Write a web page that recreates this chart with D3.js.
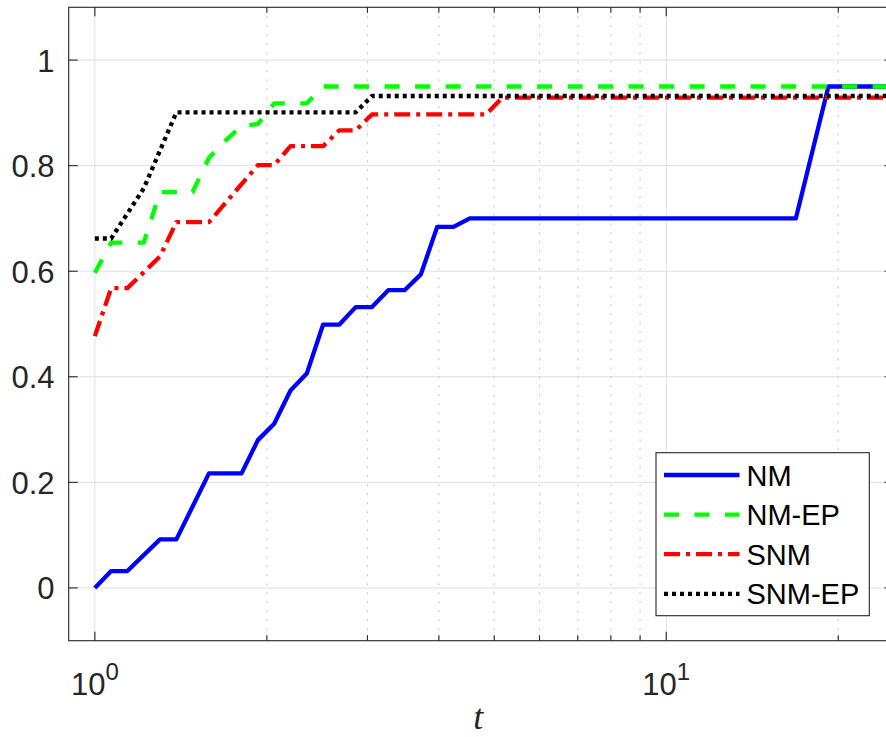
<!DOCTYPE html>
<html>
<head>
<meta charset="utf-8">
<script src="https://cdn.jsdelivr.net/npm/d3@7"></script>
<style>
  body { margin: 0; background: #fff; }
  svg { display: block; }
</style>
</head>
<body>
<svg id="chart"></svg>
<script>
// performance profile data
const seriesNames = ["NM", "NM-EP", "SNM", "SNM-EP"];

const tNM = [1, 1.068, 1.140, 1.300, 1.389, 1.584, 1.806, 1.929, 2.060, 2.200, 2.349, 2.509, 2.679, 2.861, 3.055, 3.262, 3.484, 3.720, 3.973, 4.243, 4.531, 16.856, 19.222, 25];
const vNM = [0, 0.032, 0.032, 0.092, 0.092, 0.217, 0.217, 0.280, 0.311, 0.374, 0.406, 0.499, 0.499, 0.532, 0.532, 0.564, 0.564, 0.594, 0.684, 0.684, 0.700, 0.700, 0.950, 0.950];

const tNMEP = [1, 1.068, 1.218, 1.300, 1.483, 1.584, 1.691, 1.806, 1.929, 2.060, 2.349, 2.509, 25];
const vNMEP = [0.597, 0.654, 0.654, 0.750, 0.750, 0.815, 0.847, 0.875, 0.879, 0.918, 0.918, 0.950, 0.950];

const tSNM = [1, 1.068, 1.140, 1.218, 1.300, 1.389, 1.584, 1.929, 2.060, 2.200, 2.509, 2.679, 2.861, 3.055, 4.839, 5.167, 25];
const vSNM = [0.477, 0.568, 0.568, 0.598, 0.628, 0.693, 0.693, 0.801, 0.801, 0.837, 0.837, 0.867, 0.867, 0.897, 0.897, 0.929, 0.929];

const tSNMEP = [1, 1.068, 1.218, 1.389, 2.861, 3.055, 25];
const vSNMEP = [0.662, 0.662, 0.757, 0.901, 0.901, 0.932, 0.932];

const xMajor = [1, 10];
const xMajorExp = ["0", "1"];
const xMinor = [2, 3, 4, 5, 6, 7, 8, 9, 20];
const yTicks = [0, 0.2, 0.4, 0.6, 0.8, 1];
const yTickLabels = ["0", "0.2", "0.4", "0.6", "0.8", "1"];

const W = 886, H = 737;
const pLeft = 68.7, pTop = 7.3, pBottom = 640.7;
const svg = d3.select("#chart").attr("width", W).attr("height", H);

const x = d3.scaleLog().domain([0.9, 25]).range([pLeft, pLeft + 571.4 * Math.log10(25 / 0.9)]);
const y = d3.scaleLinear().domain([-0.1, 1.1]).range([pBottom, pTop]);
const pRight = x.range()[1];

const axisColor = "#262626";

// grid
const grid = svg.append("g");
grid.selectAll(".yg").data(yTicks).join("line")
    .attr("x1", pLeft).attr("x2", pRight)
    .attr("y1", d => y(d)).attr("y2", d => y(d))
    .attr("stroke", "#e0e0e0").attr("stroke-width", 1);
grid.selectAll(".xg").data(xMajor).join("line")
    .attr("x1", d => x(d)).attr("x2", d => x(d))
    .attr("y1", pTop).attr("y2", pBottom)
    .attr("stroke", "#e0e0e0").attr("stroke-width", 1);
grid.selectAll(".xm").data(xMinor).join("line")
    .attr("x1", d => x(d)).attr("x2", d => x(d))
    .attr("y1", pTop).attr("y2", pBottom)
    .attr("stroke", "#c4c4c4").attr("stroke-width", 1)
    .attr("stroke-dasharray", "2,7");

// curves
svg.append("defs").append("clipPath").attr("id", "clip")
    .append("rect").attr("x", pLeft).attr("y", pTop)
    .attr("width", pRight - pLeft).attr("height", pBottom - pTop);

const series = [
    { name: seriesNames[0], t: tNM, v: vNM, color: "#0000ff", dash: null },
    { name: seriesNames[1], t: tNMEP, v: vNMEP, color: "#00ff00", dash: "15,15.5" },
    { name: seriesNames[2], t: tSNM, v: vSNM, color: "#ff0000", dash: "16,6,4,6" },
    { name: seriesNames[3], t: tSNMEP, v: vSNMEP, color: "#000000", dash: "4,4" }
];

const line = d3.line().x(d => x(d[0])).y(d => y(d[1]));

svg.append("g").attr("clip-path", "url(#clip)")
    .selectAll("path").data(series).join("path")
    .attr("d", s => line(s.t.map((t, i) => [t, s.v[i]])))
    .attr("fill", "none")
    .attr("stroke", s => s.color)
    .attr("stroke-width", 4.3)
    .attr("stroke-linejoin", "round")
    .attr("stroke-dasharray", s => s.dash);

// axes box and ticks
const axes = svg.append("g").attr("stroke", axisColor).attr("stroke-width", 1.1);
axes.append("rect").attr("x", pLeft).attr("y", pTop)
    .attr("width", pRight - pLeft).attr("height", pBottom - pTop).attr("fill", "none");

const xt = xMajor.map(d => ({ v: d, len: 9 })).concat(xMinor.map(d => ({ v: d, len: 5.5 })));
axes.selectAll(".xb").data(xt).join("line")
    .attr("x1", d => x(d.v)).attr("x2", d => x(d.v))
    .attr("y1", pBottom).attr("y2", d => pBottom - d.len);
axes.selectAll(".xt").data(xt).join("line")
    .attr("x1", d => x(d.v)).attr("x2", d => x(d.v))
    .attr("y1", pTop).attr("y2", d => pTop + d.len);
axes.selectAll(".yl").data(yTicks).join("line")
    .attr("x1", pLeft).attr("x2", pLeft + 9)
    .attr("y1", d => y(d)).attr("y2", d => y(d));
axes.selectAll(".yr").data(yTicks).join("line")
    .attr("x1", pRight).attr("x2", pRight - 9)
    .attr("y1", d => y(d)).attr("y2", d => y(d));

// tick labels
const font = "'Liberation Sans', Arial, Helvetica, sans-serif";
svg.append("g").selectAll("text").data(yTicks).join("text")
    .attr("x", 54.5).attr("y", d => y(d) + 11.5)
    .attr("text-anchor", "end")
    .attr("font-family", font).attr("font-size", 31).attr("fill", axisColor)
    .text((d, i) => yTickLabels[i]);

const xl = svg.append("g").selectAll("text").data(xMajor).join("text")
    .attr("x", d => x(d)).attr("y", 695)
    .attr("text-anchor", "middle")
    .attr("font-family", font).attr("font-size", 31).attr("fill", axisColor);
xl.append("tspan").text("10");
xl.append("tspan").attr("font-size", 24).attr("dy", -15).text((d, i) => xMajorExp[i]);

svg.append("text")
    .attr("x", (pLeft + pRight) / 2 - 3).attr("y", 729)
    .attr("text-anchor", "middle")
    .attr("font-family", "'Liberation Serif', 'DejaVu Serif', serif")
    .attr("font-style", "italic").attr("font-size", 36).attr("fill", axisColor)
    .text("t");

// legend
const lg = svg.append("g");
lg.append("rect").attr("x", 656).attr("y", 452.7).attr("width", 213.3).attr("height", 163)
    .attr("fill", "#fff").attr("stroke", axisColor).attr("stroke-width", 1.1);
const rows = lg.selectAll("g").data(series).join("g")
    .attr("transform", (d, i) => `translate(0,${475 + i * 39.6})`);
rows.append("line").attr("x1", 664).attr("x2", 739.5).attr("y1", 0).attr("y2", 0)
    .attr("stroke", d => d.color).attr("stroke-width", 4.3)
    .attr("stroke-dasharray", d => d.dash);
rows.append("text").attr("x", 746.5).attr("y", 10.5)
    .attr("font-family", font).attr("font-size", 29).attr("fill", "#000")
    .text(d => d.name);
</script>
</body>
</html>
